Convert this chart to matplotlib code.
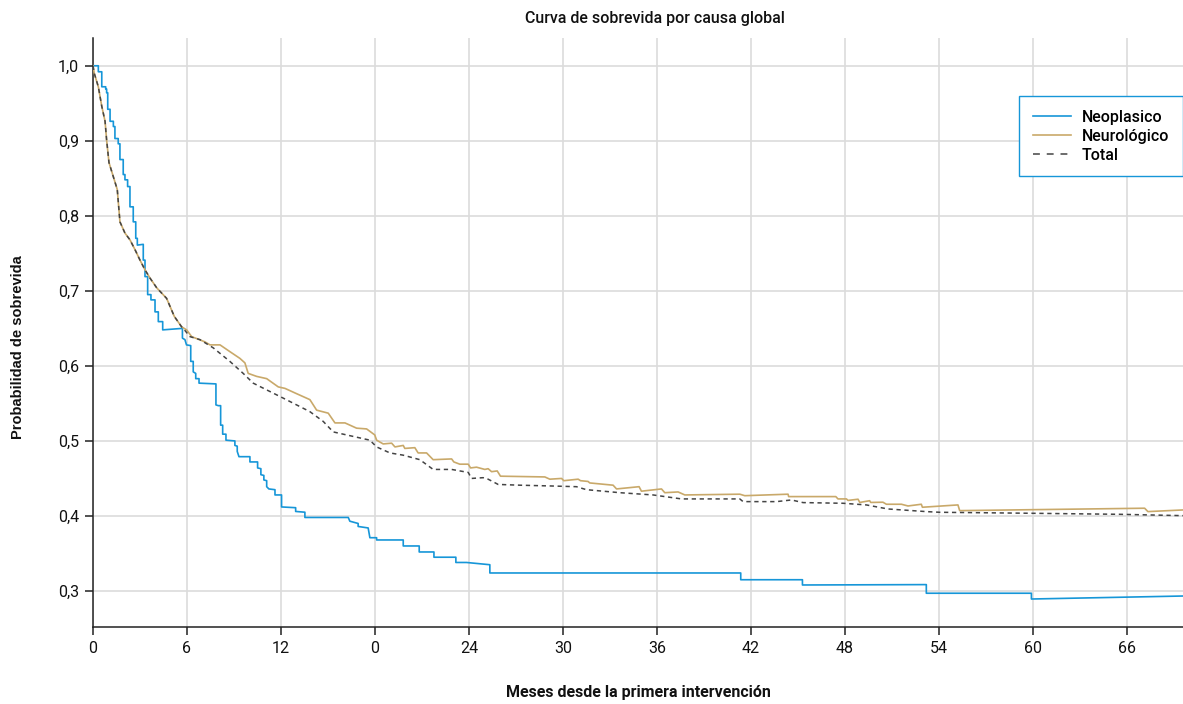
import matplotlib
matplotlib.use("Agg")
import matplotlib.pyplot as plt
from matplotlib.lines import Line2D
from matplotlib.ticker import FixedLocator, FixedFormatter

plt.rcParams['font.family'] = ['Roboto', 'DejaVu Sans']

# ---- data (months, survival probability) ----
neo_t = [0, 0.34, 0.34, 0.56, 0.56, 0.81, 0.81, 0.87, 0.87, 0.94, 0.94, 1.09, 1.09, 1.30, 1.30,
         1.40, 1.40, 1.61, 1.61, 1.72, 1.72, 1.93, 1.93, 2.04, 2.04, 2.21, 2.21, 2.36, 2.36,
         2.57, 2.57, 2.73, 2.73, 2.83, 2.83, 3.21, 3.21, 3.32, 3.32, 3.49, 3.49, 3.70, 3.70,
         3.96, 3.96, 4.17, 4.17, 4.45, 4.45, 5.71, 5.71, 5.87, 5.97, 6.24, 6.24, 6.40, 6.40,
         6.56, 6.56, 6.77, 6.77, 7.85, 7.85, 8.00, 8.15, 8.15, 8.28, 8.28, 8.49, 8.49, 9.06,
         9.06, 9.21, 9.21, 9.32, 10.02, 10.02, 10.51, 10.51, 10.72, 10.72, 10.91, 10.91, 11.09,
         11.09, 11.23, 11.62, 11.62, 12.04, 12.04, 12.94, 12.94, 13.53, 13.53, 16.30, 16.40,
         16.93, 16.93, 17.57, 17.68, 18.11, 18.11, 19.81, 19.81, 20.83, 20.83, 21.77, 21.77,
         23.17, 23.17, 23.85, 25.34, 25.34, 41.36, 41.36, 45.30, 45.30, 53.21, 53.21, 59.92,
         59.92, 69.6]
neo_s = [1.0, 1.0, 0.992, 0.992, 0.972, 0.972, 0.969, 0.969, 0.964, 0.964, 0.942, 0.942, 0.926,
         0.926, 0.919, 0.919, 0.903, 0.903, 0.896, 0.896, 0.875, 0.875, 0.855, 0.855, 0.848,
         0.848, 0.839, 0.839, 0.812, 0.812, 0.792, 0.792, 0.770, 0.770, 0.761, 0.762, 0.741,
         0.741, 0.719, 0.719, 0.695, 0.695, 0.688, 0.688, 0.672, 0.672, 0.659, 0.659, 0.648,
         0.650, 0.637, 0.635, 0.628, 0.627, 0.606, 0.606, 0.592, 0.590, 0.583, 0.583, 0.577,
         0.576, 0.548, 0.547, 0.547, 0.521, 0.521, 0.509, 0.509, 0.501, 0.500, 0.494, 0.493,
         0.486, 0.479, 0.479, 0.472, 0.472, 0.464, 0.463, 0.455, 0.454, 0.448, 0.447, 0.439,
         0.436, 0.435, 0.428, 0.428, 0.412, 0.411, 0.406, 0.405, 0.398, 0.398, 0.393, 0.390,
         0.386, 0.384, 0.371, 0.371, 0.368, 0.368, 0.360, 0.360, 0.352, 0.352, 0.345, 0.345,
         0.338, 0.338, 0.335, 0.324, 0.324, 0.315, 0.315, 0.308, 0.3085, 0.297, 0.297, 0.2893,
         0.2933]

early_t = [0, 0.08, 0.34, 0.56, 0.77, 0.87, 1.02, 1.30, 1.55, 1.72, 2.04, 2.36, 2.68, 3.00,
           3.32, 3.64, 4.07, 4.70, 5.19, 5.66]
early_s = [1.0, 0.99, 0.972, 0.946, 0.926, 0.901, 0.871, 0.852, 0.835, 0.792, 0.777, 0.768,
           0.755, 0.741, 0.728, 0.717, 0.704, 0.690, 0.666, 0.652]

neu_t = early_t + [5.98, 6.30, 7.15, 7.47, 8.11, 8.74, 9.38, 9.70, 9.91, 10.45, 11.09, 11.83,
                   12.26, 12.89, 13.85, 14.28, 15.02, 15.45, 16.09, 16.83, 17.47, 17.99, 18.11,
                   18.53, 19.07, 19.28, 19.81, 19.91, 20.55, 20.76, 21.30, 21.72, 22.90, 23.04,
                   23.42, 23.96, 24.11, 24.49, 25.02, 25.23, 25.45, 25.81, 26.02, 28.85, 29.17,
                   29.92, 30.06, 30.98, 31.13, 31.61, 31.72, 33.21, 33.43, 34.87, 35.02, 36.30,
                   36.51, 37.36, 37.79, 41.30, 41.62, 44.38, 44.42, 47.43, 47.57, 48.11, 48.21,
                   48.85, 48.96, 49.59, 49.66, 50.44, 50.66, 51.62, 52.04, 52.89, 52.96, 55.23,
                   55.34, 67.15, 67.36, 69.6]
neu_s = early_s + [0.648, 0.639, 0.632, 0.628, 0.628, 0.619, 0.610, 0.604, 0.590, 0.586, 0.583,
                   0.572, 0.570, 0.564, 0.555, 0.541, 0.537, 0.524, 0.524, 0.517, 0.516, 0.508,
                   0.501, 0.496, 0.497, 0.492, 0.494, 0.490, 0.491, 0.484, 0.484, 0.475, 0.476,
                   0.472, 0.469, 0.469, 0.464, 0.465, 0.462, 0.463, 0.459, 0.460, 0.453, 0.452,
                   0.449, 0.450, 0.447, 0.449, 0.447, 0.446, 0.444, 0.441, 0.436, 0.439, 0.433,
                   0.436, 0.431, 0.432, 0.428, 0.429, 0.427, 0.429, 0.4258, 0.4258, 0.4227,
                   0.4227, 0.4207, 0.4223, 0.418, 0.4203, 0.418, 0.4183, 0.4156, 0.4156, 0.4133,
                   0.4156, 0.4116, 0.4147, 0.4071, 0.4103, 0.4058, 0.408]

tot_t = early_t + [5.76, 6.19, 6.83, 7.68, 8.74, 9.59, 10.23, 11.09, 12.15, 13.00, 13.85, 14.70,
                   15.34, 16.40, 17.68, 18.11, 18.96, 19.81, 20.87, 21.72, 22.90, 23.96, 24.17,
                   24.91, 25.23, 25.87, 27.25, 29.17, 30.87, 31.51, 33.64, 35.76, 37.58, 41.30,
                   41.51, 43.64, 44.60, 45.34, 47.89, 49.38, 50.76, 53.21, 54.06, 59.81, 65.55,
                   69.6]
tot_s = early_s + [0.650, 0.639, 0.635, 0.624, 0.606, 0.590, 0.577, 0.568, 0.557, 0.548, 0.539,
                   0.526, 0.512, 0.507, 0.501, 0.492, 0.484, 0.481, 0.475, 0.462, 0.462, 0.458,
                   0.450, 0.451, 0.449, 0.442, 0.441, 0.440, 0.439, 0.435, 0.431, 0.428, 0.4227,
                   0.4227, 0.4191, 0.4191, 0.4213, 0.4178, 0.4169, 0.4147, 0.4093, 0.4058,
                   0.4049, 0.4036, 0.4022, 0.4004]

x_ticks = [0, 6, 12, 18, 24, 30, 36, 42, 48, 54, 60, 66]
x_tick_labels = ['0', '6', '12', '0', '24', '30', '36', '42', '48', '54', '60', '66']
y_ticks = [0.3, 0.4, 0.5, 0.6, 0.7, 0.8, 0.9, 1.0]
y_tick_labels = ['0,3', '0,4', '0,5', '0,6', '0,7', '0,8', '0,9', '1,0']
series_names = ['Neoplasico', 'Neurológico', 'Total']

BLUE = '#1696d8'
TAN = '#c9a96a'
GRAY = '#444444'

fig = plt.figure(figsize=(11.83, 7.04), dpi=100)
ax = fig.add_axes([93 / 1183, 1 - 627 / 704, 1090 / 1183, 589 / 704])

ax.plot(neo_t, neo_s, color=BLUE, lw=1.2, zorder=3)
ax.plot(neu_t, neu_s, color=TAN, lw=1.2, zorder=3)
ax.plot(tot_t, tot_s, color=GRAY, lw=1.1, ls=(0, (2.8, 2.4)), zorder=4)

ax.set_xlim(0, 69.6)
ax.set_ylim(0.252, 1.037)
ax.xaxis.set_major_locator(FixedLocator(x_ticks))
ax.xaxis.set_major_formatter(FixedFormatter(x_tick_labels))
ax.yaxis.set_major_locator(FixedLocator(y_ticks))
ax.yaxis.set_major_formatter(FixedFormatter(y_tick_labels))

ax.grid(True, color='#dcdcdc', lw=1.2, zorder=0)
ax.set_axisbelow(True)
for s in ['top', 'right']:
    ax.spines[s].set_visible(False)
for s in ['left', 'bottom']:
    ax.spines[s].set_color('#222222')
    ax.spines[s].set_linewidth(1.1)
ax.tick_params(axis='both', length=6, width=1.1, color='#222222', labelsize=11.5,
               labelcolor='#111111', pad=4)

ax.set_title('Curva de sobrevida por causa global', fontsize=11.5, fontweight='medium',
             pad=11, color='#111111', x=0.5156)
ax.set_xlabel('Meses desde la primera intervención', fontsize=11.5, fontweight='bold',
              labelpad=21, color='#111111')
ax.set_ylabel('Probabilidad de sobrevida', fontsize=10.5, fontweight='bold',
              family=['Liberation Sans', 'DejaVu Sans'], labelpad=24, color='#111111')
ax.yaxis.label.set_y(0.475)

handles = [Line2D([], [], color=BLUE, lw=1.2),
           Line2D([], [], color=TAN, lw=1.2),
           Line2D([], [], color=GRAY, lw=1.1, ls=(0, (4.5, 4.5)))]
leg = ax.legend(handles, series_names, loc='upper right', bbox_to_anchor=(1.0, 0.9015),
                frameon=True, fancybox=False,
                handlelength=2.4, handletextpad=0.7, borderpad=0.85, labelspacing=0.25,
                borderaxespad=0, prop={'weight': 'medium', 'size': 11.5})
leg.get_frame().set_edgecolor(BLUE)
leg.get_frame().set_linewidth(1.0)
leg.get_frame().set_alpha(1)

fig.savefig('out.png', dpi=100)
